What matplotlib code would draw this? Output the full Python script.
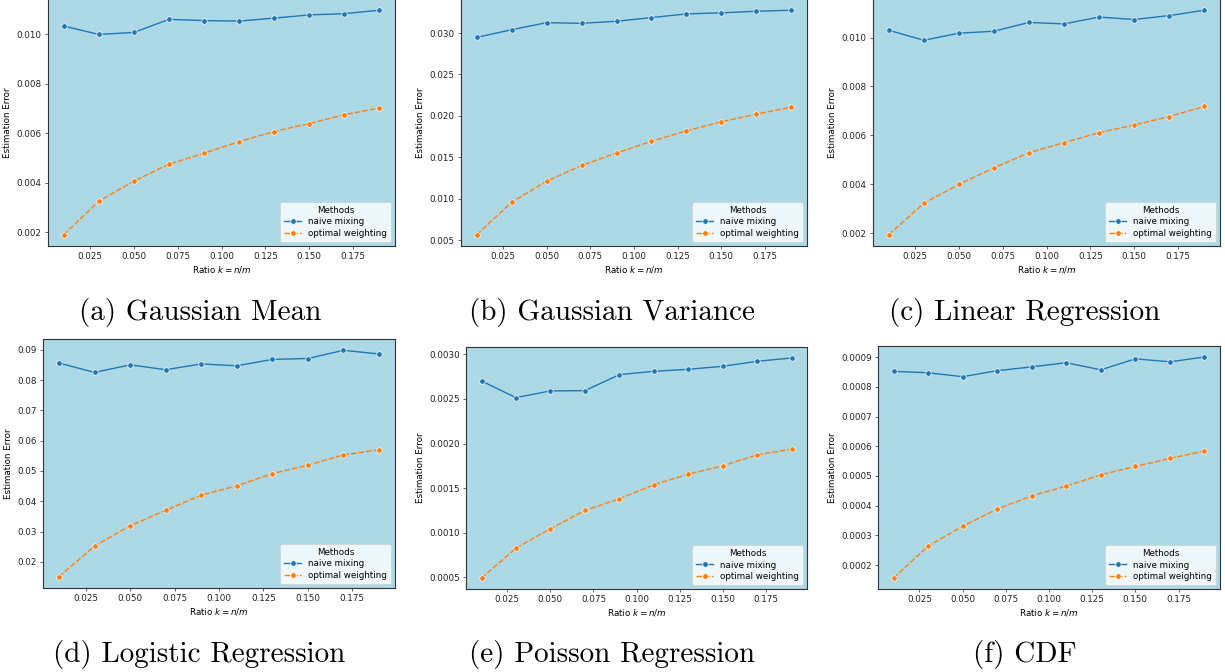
import matplotlib
matplotlib.use('Agg')
import matplotlib.pyplot as plt

ratios = [0.01, 0.03, 0.05, 0.07, 0.09, 0.11, 0.13, 0.15, 0.17, 0.19]

captions = ['(a) Gaussian Mean', '(b) Gaussian Variance', '(c) Linear Regression',
            '(d) Logistic Regression', '(e) Poisson Regression', '(f) CDF']

naive_mixing = [
    [0.01034, 0.01000, 0.01008, 0.01061, 0.01056, 0.01054, 0.01066, 0.01079, 0.01084, 0.01098],
    [0.02947, 0.03040, 0.03125, 0.03117, 0.03142, 0.03186, 0.03231, 0.03243, 0.03263, 0.03275],
    [0.01030, 0.00989, 0.01018, 0.01026, 0.01062, 0.01056, 0.01084, 0.01074, 0.01090, 0.01112],
    [0.0856, 0.0825, 0.0850, 0.0834, 0.0853, 0.0847, 0.0868, 0.0871, 0.0898, 0.0886],
    [0.002701, 0.002515, 0.002590, 0.002593, 0.002772, 0.002810, 0.002832, 0.002866, 0.002922, 0.002959],
    [0.000852, 0.000847, 0.000834, 0.000854, 0.000867, 0.000881, 0.000857, 0.000894, 0.000884, 0.000900],
]

optimal_weighting = [
    [0.00189, 0.00325, 0.00406, 0.00475, 0.00519, 0.00566, 0.00607, 0.00639, 0.00675, 0.00702],
    [0.00565, 0.00957, 0.01212, 0.01402, 0.01552, 0.01693, 0.01819, 0.01928, 0.02021, 0.02106],
    [0.00193, 0.00322, 0.00399, 0.00467, 0.00529, 0.00570, 0.00611, 0.00642, 0.00677, 0.00718],
    [0.0151, 0.0252, 0.0319, 0.0370, 0.0420, 0.0451, 0.0491, 0.0519, 0.0553, 0.0570],
    [0.000493, 0.000828, 0.001045, 0.001250, 0.001381, 0.001537, 0.001657, 0.001750, 0.001873, 0.001937],
    [0.000157, 0.000264, 0.000331, 0.000389, 0.000433, 0.000466, 0.000504, 0.000532, 0.000559, 0.000584],
]

W, H = 1225, 672
# axes boxes in pixels: left, top, right, bottom
boxes = [(48, -1, 395, 246), (461, -1, 807, 246), (873, -1, 1220, 246),
         (43, 339, 395, 588), (466, 347, 807, 589), (878, 346, 1220, 589)]
caption_x = [200, 612, 1025, 199, 612, 1025]
caption_y = [320, 320, 320, 662, 662, 662]

fig = plt.figure(figsize=(W / 100, H / 100), dpi=100)

for i in range(6):
    l, t, r, b = boxes[i]
    ax = fig.add_axes([l / W, 1 - b / H, (r - l) / W, (b - t) / H])
    ax.set_facecolor('lightblue')
    ax.plot(ratios, naive_mixing[i], color='#1f77b4', lw=1.0, marker='o', ms=4,
            mec='white', mew=0.5, label='naive mixing')
    ax.plot(ratios, optimal_weighting[i], color='#ff7f0e', lw=1.0, marker='o', ms=4,
            mec='white', mew=0.5, dashes=(4, 1.5), label='optimal weighting')
    ax.set_xlabel('Ratio $k = n/m$', fontsize=6.3, labelpad=2)
    ax.set_ylabel('Estimation Error', fontsize=6.3, labelpad=3)
    ax.tick_params(labelsize=6.3, length=2.5, width=0.5, pad=2, colors='#222222')
    for s in ax.spines.values():
        s.set_linewidth(0.8)
        s.set_color('#333333')
    leg = ax.legend(title='Methods', loc='lower right', fontsize=6.3, title_fontsize=6.3,
                    borderpad=0.4, labelspacing=0.3, handlelength=2.0)
    leg.get_frame().set_linewidth(0.5)
    fig.text(caption_x[i] / W, 1 - caption_y[i] / H, captions[i], family='cmr10',
             fontsize=21, ha='center', va='baseline')

fig.savefig('out.png', dpi=100)
